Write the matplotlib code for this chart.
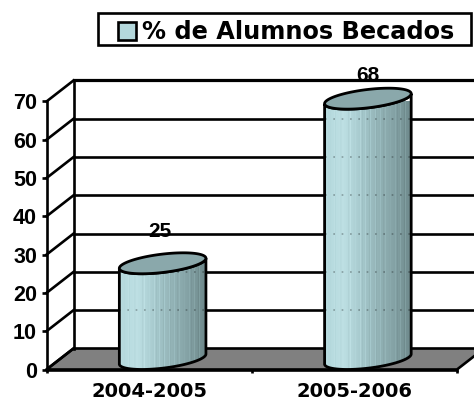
import numpy as np, matplotlib
matplotlib.use('Agg')
import matplotlib.pyplot as plt
from matplotlib.colors import LinearSegmentedColormap
from matplotlib.patches import Polygon, Rectangle

categories = ['2004-2005', '2005-2006']
values = [25, 68]
y_ticks = [0, 10, 20, 30, 40, 50, 60, 70]
legend_label = '% de Alumnos Becados'

W, H = 474, 400
X0, X1, Y0, Y70 = 46.5, 457.0, 369.5, 101.5
DX, DY = 27.0, 21.0  # depth shift of the back wall in px

fig = plt.figure(figsize=(W / 100, H / 100), dpi=100)
ax = fig.add_axes([X0 / W, 1 - Y0 / H, (X1 - X0) / W, (Y0 - Y70) / H])
ax.set_xlim(0, 2)
ax.set_ylim(0, 70)
ax.patch.set_visible(False)
for s in ax.spines.values():
    s.set_visible(False)

ux = (X1 - X0) / 2
uy = (Y0 - Y70) / 70
dx, dy = DX / ux, DY / uy
LW = 1.9

def ln(xs, ys, lw=LW, z=2):
    ax.plot(xs, ys, color='black', lw=lw, clip_on=False, zorder=z, solid_capstyle='projecting')

# floor
ax.add_patch(Polygon([(0, 0), (2, 0), (2 + dx, dy), (dx, dy)], closed=True, fc='#808080', ec='black',
                     lw=LW, clip_on=False, zorder=1))

# gridlines, wall diagonals
for v in y_ticks:
    if v > 0:
        ln([dx, 2 + dx], [v + dy, v + dy], lw=LW + (0.4 if v == 70 else 0))
    ln([0, dx], [v, v + dy])
ln([dx, dx], [dy, 70 + dy])
ln([0, 0], [0, 70])
ln([0, 2], [0, 0])

ax.set_xticks([0, 1, 2])
ax.set_xticklabels([])
ax.set_yticks(y_ticks)
ax.set_yticklabels([str(v) for v in y_ticks], fontfamily='Liberation Sans', fontweight='bold', fontsize=15.5)
ax.tick_params(axis='y', length=3.6, width=LW, color='black', pad=3.2)
ax.tick_params(axis='x', length=2.5, width=LW, color='black')
for i, c in enumerate(categories):
    ax.text(i + 0.5, -5.7, c, ha='center', va='center', fontfamily='DejaVu Sans', fontweight='bold', fontsize=14,
            clip_on=False)

cmap = LinearSegmentedColormap.from_list('cyl', ['#B4D8DC', '#BEE0E4', '#A8CBCF', '#94B4B7', '#84A2A5', '#6E898B'])
# banded shading, the original gradient has visible vertical steps
pos = np.linspace(0, 1, 87)
strip = pos.copy()
strip[::5] = np.clip(strip[::5] - 0.1, 0, 1)
strip[2::7] = np.clip(strip[2::7] + 0.06, 0, 1)
strip = strip[None, :]

# cylinders
a_px, b_px, s_px = 43.3, 9.2, 5.0
t = np.linspace(0, 2 * np.pi, 181)
label_gap = [32, 23]  # px above the top ellipse centre

def ellipse(xc, v):
    ex = xc + a_px * np.cos(t) / ux
    ey = v + dy / 2 + (b_px * np.sin(t) + s_px * np.cos(t)) / uy
    return ex, ey

for i, v in enumerate(values):
    xc = i + 0.5 + dx / 2
    bx, by = ellipse(xc, 0)
    tx, ty = ellipse(xc, v)
    lower = np.sin(t) <= 0
    order = np.argsort(bx[lower])
    body_x = np.r_[bx[lower][order], tx[lower][order][::-1]]
    body_y = np.r_[by[lower][order], ty[lower][order][::-1]]
    ax.add_patch(Polygon(np.c_[body_x, body_y], closed=True, fc='none', ec='black', lw=LW + 0.1, clip_on=False, zorder=5))
    im = ax.imshow(strip, cmap=cmap, vmin=0, vmax=1, extent=[xc - a_px / ux, xc + a_px / ux, -dy, v + dy * 2],
                   aspect='auto', zorder=4, interpolation='nearest')
    fill = Polygon(np.c_[body_x, body_y], closed=True, fc='none', ec='none', transform=ax.transData)
    ax.add_patch(fill)
    im.set_clip_path(fill)
    # gridlines faintly showing through the body
    for g in y_ticks[1:]:
        if g < v:
            gl, = ax.plot([xc - a_px / ux, xc + a_px / ux], [g + dy, g + dy], color='black', lw=1.2, alpha=0.3,
                          ls=(0, (1, 4)), zorder=4.5)
            gl.set_clip_path(fill)
    ax.fill(tx, ty, fc='#8AA8AB', ec='black', lw=LW + 0.1, clip_on=False, zorder=6)
    ax.text(xc - 3 / ux if i == 0 else xc, v + dy / 2 + label_gap[i] / uy, str(v), ha='center', va='center',
            fontfamily='Liberation Sans', fontweight='bold', fontsize=15, clip_on=False, zorder=7)

ax.set_xlim(0, 2)
ax.set_ylim(0, 70)

# legend box in figure px
fig.add_artist(Rectangle((97.5 / W, 1 - 45 / H), 373 / W, 32 / H, transform=fig.transFigure, fc='white', ec='black', lw=LW))
fig.add_artist(Rectangle((117.5 / W, 1 - 40 / H), 18 / W, 18 / H, transform=fig.transFigure, fc='#B4D8DC', ec='black', lw=LW))
fig.text(142 / W, 1 - 32 / H, legend_label, ha='left', va='center', fontfamily='DejaVu Sans', fontweight='bold', fontsize=17.3)

fig.savefig('out.png', dpi=100)
